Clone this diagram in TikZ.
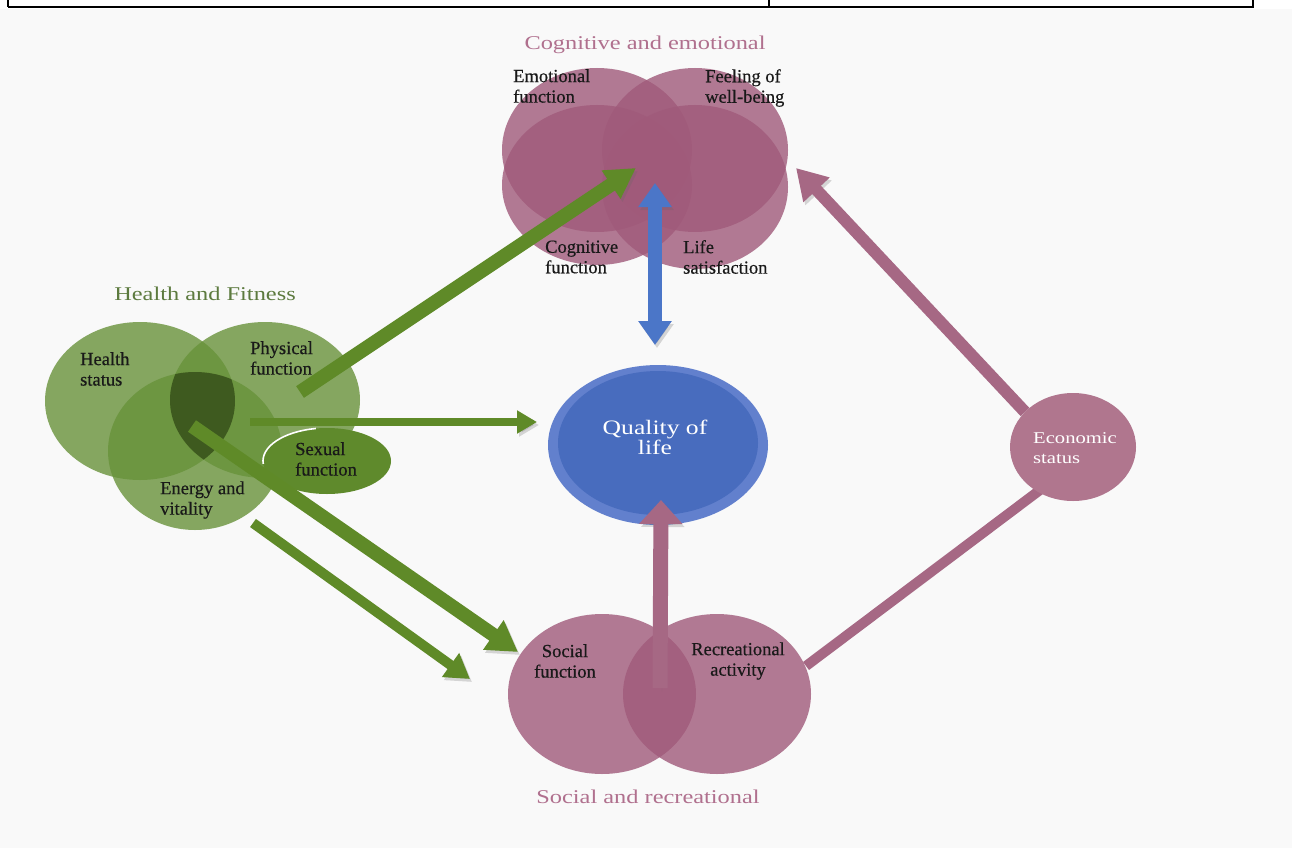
\documentclass[tikz,border=0pt]{standalone}
\usepackage{fontspec}
\setmainfont{Liberation Serif}
\newfontfamily\widefont[FakeStretch=1.25]{Liberation Serif}
\newfontfamily\lblfont[FakeBold=0.5]{Liberation Serif}
\usetikzlibrary{shapes.geometric,arrows.meta,calc}

\definecolor{bgc}{HTML}{F9F9F9}
\definecolor{mauve}{RGB}{160,90,122}
\definecolor{mauvetxt}{RGB}{176,112,142}
\definecolor{grn}{RGB}{104,146,58}
\definecolor{darkgrn}{RGB}{62,90,31}
\definecolor{sexgrn}{RGB}{95,138,44}
\definecolor{arrgrn}{RGB}{95,138,40}
\definecolor{qolout}{RGB}{98,128,205}
\definecolor{qolin}{RGB}{72,108,190}
\definecolor{arrblue}{RGB}{75,118,200}
\definecolor{arrmauve}{RGB}{166,104,132}
\definecolor{econ}{RGB}{176,118,142}
\definecolor{hftxt}{RGB}{92,122,62}

\tikzset{
  blob/.style={ellipse, inner sep=0pt, outer sep=0pt},
  cogblob/.style={blob, fill=mauve, fill opacity=0.8},
  socblob/.style={blob, fill=mauve, fill opacity=0.8},
  hfblob/.style={blob, fill=grn, fill opacity=0.8},
  lbl/.style={inner sep=0pt, align=left, text=black!90, font=\lblfont\fontsize{18.5}{20.5}\selectfont},
  lblc/.style={lbl, align=center},
  ttl/.style={inner sep=0pt, font=\widefont\fontsize{19.5}{22}\selectfont},
  wlbl/.style={inner sep=0pt, text=white, font=\widefont\fontsize{16.5}{19.5}\selectfont, align=left},
  shad/.style={preaction={draw=black!60, draw opacity=0.25, fill opacity=0.25, transform canvas={shift={(2pt,-3pt)}}}},
}

\begin{document}
\begin{tikzpicture}[x=1pt,y=-1pt]
\useasboundingbox (0,0) rectangle (1292,848);
\fill[white] (0,0) rectangle (1292,848);
\fill[bgc] (0,9) rectangle (1292,848);

% table lines at top
\draw[line width=2pt] (8,7) -- (1254,7);
\draw[line width=1.4pt] (8,0) -- (8,7) (769,0) -- (769,7) (1253,0) -- (1253,7);

% ---------- Cognitive and emotional ----------
\node[cogblob, minimum width=190pt, minimum height=164pt] (emo) at (597,150) {};
\node[cogblob, minimum width=186pt, minimum height=164pt] (feel) at (695,150) {};
\node[cogblob, minimum width=190pt, minimum height=160pt] (cogn) at (597,185) {};
\node[cogblob, minimum width=186pt, minimum height=164pt] (life) at (695,187) {};

% ---------- Social and recreational ----------
\node[socblob, minimum width=188pt, minimum height=160pt] (soc) at (602,694) {};
\node[socblob, minimum width=188pt, minimum height=160pt] (rec) at (717,694) {};

% ---------- Health and fitness ----------
\node[hfblob, minimum width=190pt, minimum height=158pt] (hstat) at (140,401) {};
\node[hfblob, minimum width=190pt, minimum height=156pt] (phys) at (265,400) {};
\node[hfblob, minimum width=174pt, minimum height=158pt] (energy) at (195,451) {};
\begin{scope}
  \clip (140,401) ellipse [x radius=95pt, y radius=79pt];
  \clip (265,400) ellipse [x radius=95pt, y radius=78pt];
  \fill[darkgrn] (195,451) ellipse [x radius=87pt, y radius=79pt];
\end{scope}

% ---------- Quality of life ----------
\node[blob, fill=qolout, minimum width=220pt, minimum height=160pt] (qolo) at (658,445) {};
\node[blob, fill=qolin, minimum width=200pt, minimum height=144pt] (qol) at (658,443) {};

% ---------- arrows coordinates ----------
\coordinate (a1s) at (300,392);  \coordinate (a1e) at (636,168);
\coordinate (a2s) at (250,422);  \coordinate (a2e) at (537,422);
\coordinate (a3s) at (192,426);  \coordinate (a3e) at (518,652);
\coordinate (a4s) at (253,523);  \coordinate (a4e) at (470,679);
\coordinate (a5s) at (655,183);  \coordinate (a5e) at (655,345);
\coordinate (a6s) at (660,688);  \coordinate (a6e) at (661,500);
\coordinate (a7s) at (1025,412); \coordinate (a7e) at (796,168);
\coordinate (a8s) at (806,666);  \coordinate (a8e) at (1040,490);

% lines behind economic status
\draw[shad, arrmauve, line width=10pt] (a8s) -- (a8e);
\draw[shad, arrmauve, line width=12pt, -{Triangle[width=34pt,length=30pt]}] (a7s) -- (a7e);
\node[blob, fill=econ, minimum width=126pt, minimum height=108pt] (econ) at (1073,447) {};

% green arrows
\draw[shad, arrgrn, line width=14pt, -{Triangle[width=32pt,length=30pt]}] (a1s) -- (a1e);
\draw[shad, arrgrn, line width=8pt, -{Triangle[width=22pt,length=20pt]}] (a2s) -- (a2e);
\draw[shad, arrgrn, line width=10pt, -{Triangle[width=28pt,length=24pt]}] (a4s) -- (a4e);

% sexual function
\node[blob, fill=sexgrn, minimum width=128pt, minimum height=66pt] (sex) at (327,461) {};
\draw[white, line width=1.6pt] ([shift={(327,461)}]100:64pt and 33pt) arc[start angle=100, end angle=185, x radius=64pt, y radius=33pt];

\draw[shad, arrgrn, line width=14pt, -{Triangle[width=34pt,length=30pt]}] (a3s) -- (a3e);

% blue double arrow
\draw[shad, arrblue, line width=14pt, {Triangle[width=32pt,length=24pt]}-{Triangle[width=32pt,length=24pt]}] (a5s) -- (a5e);

% mauve up arrow
\draw[shad, arrmauve, line width=15pt, -{Triangle[width=42pt,length=24pt]}] (a6s) -- (a6e);

% ---------- labels ----------
\node[ttl, text=mauvetxt] (tcog) at (645,45) {Cognitive and emotional};
\node[ttl, text=hftxt] (thf) at (205,294) {Health and Fitness};
\node[ttl, text=mauvetxt] (tsoc) at (648,797) {Social and recreational};

\node[lbl, anchor=west] (lemo) at (513,86) {Emotional\\function};
\node[lbl, anchor=west] (lfeel) at (705,88) {Feeling of\\well-being};
\node[lbl, anchor=west] (lcog) at (545,257) {Cognitive\\function};
\node[lbl, anchor=west] (llife) at (683,257) {Life\\satisfaction};

\node[lbl, anchor=west] (lhs) at (80,369) {Health\\status};
\node[lbl, anchor=west] (lpf) at (250,358) {Physical\\function};
\node[lbl, anchor=west] (lev) at (160,500) {Energy and\\vitality};
\node[lbl, anchor=west] (lsf) at (295,459) {Sexual\\function};

\node[lblc] (lsoc) at (565,661) {Social\\function};
\node[lblc] (lrec) at (738,661) {Recreational\\activity};

\node[inner sep=0pt, text=white, align=center, font=\widefont\fontsize{20.5}{20}\selectfont] (lqol) at (655,437) {Quality of\\life};
\node[wlbl, anchor=west] (lecon) at (1033,448) {Economic\\status};
\end{tikzpicture}
\end{document}
